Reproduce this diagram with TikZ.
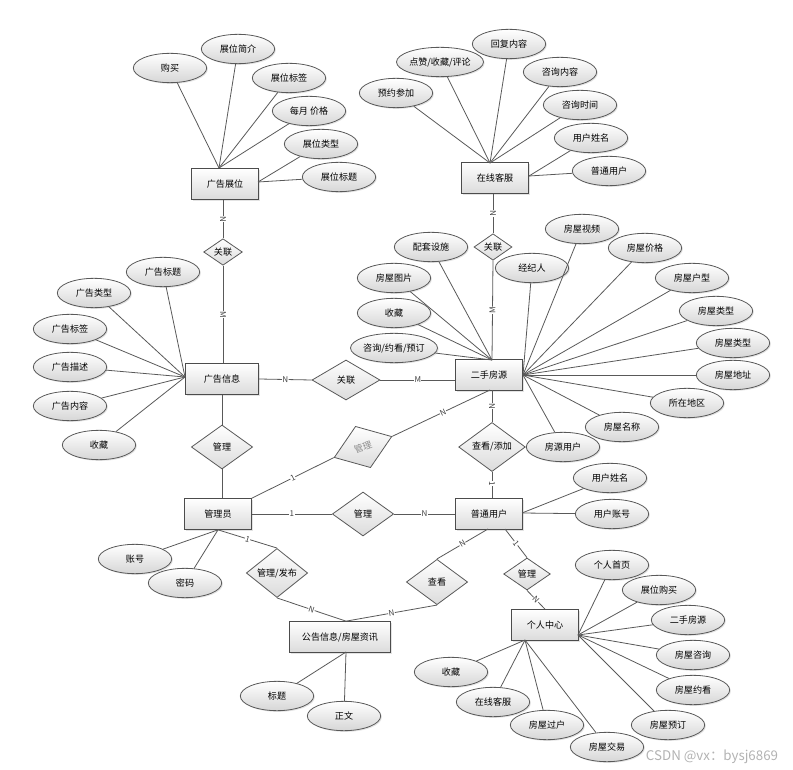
\documentclass[tikz,border=0pt]{standalone}
\usepackage{fontspec}
\setmainfont{Noto Sans CJK SC}
\usetikzlibrary{shapes.geometric,shadows}
\begin{document}
\begin{tikzpicture}[x=0.75pt,y=-0.75pt,
  every node/.style={font=\fontsize{6.8}{7.5}\selectfont},
  link/.style={draw=black!65, line width=0.6pt},
  shad/.style={drop shadow={opacity=0.22, shadow xshift=0.9pt, shadow yshift=-0.9pt}},
  attr/.style={ellipse, draw=black!65, line width=0.6pt, top color=white, bottom color=black!16, minimum width=55pt, minimum height=22pt, inner sep=0pt, shad},
  ent/.style={rectangle, draw=black!70, line width=0.75pt, top color=white, bottom color=black!14, minimum width=50pt, minimum height=23pt, inner sep=1pt, shad},
  rel/.style={diamond, draw=black!65, line width=0.6pt, top color=white, bottom color=black!14, inner sep=0pt, minimum width=46pt, minimum height=33pt},
  card/.style={font=\fontsize{6}{6}\selectfont, text=black!75, fill=white, inner sep=0.3pt, sloped}
]
\useasboundingbox (0,0) rectangle (793,770);
% entities
\node[ent] (gz) at (225,184) {广告展位};
\node[ent] (zx) at (495,178) {在线客服};
\node[ent, minimum width=55pt] (gx) at (222,379) {广告信息};
\node[ent] (ef) at (489,375) {二手房源};
\node[ent] (gly) at (218,514) {管理员};
\node[ent] (pt) at (489,514) {普通用户};
\node[ent] (gr) at (545,625) {个人中心};
\node[ent, minimum width=76pt] (gg) at (340,637) {公告信息/房屋资讯};
% relationships
\node[rel, minimum width=29pt, minimum height=19pt] (r1) at (223,252) {关联};
\node[rel, minimum width=28.5pt, minimum height=19pt] (r2) at (493,247) {关联};
\node[rel, minimum width=51pt, minimum height=30pt] (r3) at (346,380) {关联};
\node[rel] (r4) at (222,447) {管理};
\node[rel, rotate=20, text=black!45] (r5) at (363,447) {管理};
\node[rel] (r6) at (363,514) {管理};
\node[rel, minimum width=50pt] (r7) at (492,447) {查看/添加};
\node[rel, minimum height=34pt] (r8) at (277,573) {管理/发布};
\node[rel, minimum height=34pt] (r9) at (437,582) {查看};
\node[rel, minimum width=35pt, minimum height=24pt] (r10) at (527,574) {管理};
% attributes
\node[attr] (a1) at (170,68) {购买};
\node[attr] (a2) at (238,49) {展位简介};
\node[attr] (a3) at (289,78) {展位标签};
\node[attr] (a4) at (309,111) {每月 价格};
\node[attr] (a5) at (321,144) {展位类型};
\node[attr] (a6) at (339,177) {展位标题};
\node[attr] (b1) at (396,93) {预约参加};
\node[attr] (b2) at (440,62) {点赞/收藏/评论};
\node[attr] (b3) at (509,44) {回复内容};
\node[attr] (b4) at (560,72) {咨询内容};
\node[attr] (b5) at (580,105) {咨询时间};
\node[attr] (b6) at (591,138) {用户姓名};
\node[attr] (b7) at (609,171) {普通用户};
\node[attr] (c1) at (163,272) {广告标题};
\node[attr] (c2) at (94,293) {广告类型};
\node[attr] (c3) at (70,329) {广告标签};
\node[attr] (c4) at (70,367) {广告描述};
\node[attr] (c5) at (70,406) {广告内容};
\node[attr] (c6) at (99,445) {收藏};
\node[attr] (d1) at (431,247) {配套设施};
\node[attr] (d2) at (394,278) {房屋图片};
\node[attr] (d3) at (394,313) {收藏};
\node[attr, minimum width=57pt] (d4) at (394,348) {咨询/约看/预订};
\node[attr] (d5) at (532,268) {经纪人};
\node[attr] (d6) at (582,229) {房屋视频};
\node[attr] (d7) at (645,248) {房屋价格};
\node[attr] (d8) at (692,278) {房屋户型};
\node[attr] (d9) at (716,311) {房屋类型};
\node[attr] (d10) at (733,343) {房屋类型};
\node[attr] (d11) at (733,375) {房屋地址};
\node[attr] (d12) at (687,403) {所在地区};
\node[attr] (d13) at (622,427) {房屋名称};
\node[attr] (d14) at (563,447) {房源用户};
\node[attr] (e1) at (610,478) {用户姓名};
\node[attr] (e2) at (612,514) {用户账号};
\node[attr] (f1) at (135,559) {账号};
\node[attr] (f2) at (185,583) {密码};
\node[attr] (g1) at (277,696) {标题};
\node[attr] (g2) at (344,716) {正文};
\node[attr] (h1) at (612,565) {个人首页};
\node[attr] (h2) at (659,590) {展位购买};
\node[attr] (h3) at (688,620) {二手房源};
\node[attr] (h4) at (693,655) {房屋咨询};
\node[attr] (h5) at (693,690) {房屋约看};
\node[attr] (h6) at (668,725) {房屋预订};
\node[attr] (h7) at (607,747) {房屋交易};
\node[attr] (h8) at (547,725) {房屋过户};
\node[attr] (h9) at (493,702) {在线客服};
\node[attr] (h10) at (451,672) {收藏};
% convergence points
\coordinate (gzT) at (219,168);
\coordinate (gzR) at (258,182);
\coordinate (zxT) at (490,163);
\coordinate (zxR) at (529,176);
\coordinate (gxL) at (185,377);
\coordinate (efT) at (492,360);
\coordinate (efR) at (523,375);
\coordinate (efB) at (490,390);
\coordinate (ptR) at (522,513);
\coordinate (ptB1) at (488,529);
\coordinate (ptB2) at (505,529);
\coordinate (ggB) at (346,652);
\coordinate (grR) at (578,635);
\coordinate (grB) at (525,640);
% attribute links
\foreach \t in {a1,a2,a3,a4} \draw[link] (gzT) -- (\t);
\foreach \t in {a5,a6} \draw[link] (gzR) -- (\t);
\foreach \t in {b1,b2,b3,b4,b5} \draw[link] (zxT) -- (\t);
\foreach \t in {b6,b7} \draw[link] (zxR) -- (\t);
\foreach \t in {c1,c2,c3,c4,c5,c6} \draw[link] (gxL) -- (\t);
\foreach \t in {d1,d2,d3,d4} \draw[link] (efT) -- (\t);
\foreach \t in {d5,d6,d7,d8,d9,d10,d11,d12,d13,d14} \draw[link] (efR) -- (\t);
\foreach \t in {e1,e2} \draw[link] (ptR) -- (\t);
\foreach \t in {f1,f2} \draw[link] (gly.south) -- (\t);
\foreach \t in {g1,g2} \draw[link] (ggB) -- (\t);
\foreach \t in {h1,h2,h3,h4,h5,h6} \draw[link] (grR) -- (\t);
\foreach \t in {h7,h8,h9,h10} \draw[link] (grB) -- (\t);
% relationship links
\draw[link] (gz.south -| r1.north) -- node[card]{N} (r1.north);
\draw[link] (r1.south) -- node[card]{M} (r1.south |- gx.north);
\draw[link] (zx.south -| r2.north) -- node[card]{N} (r2.north);
\draw[link] (r2.south) -- node[card]{M} (efT);
\draw[link] (gx.east) -- node[card]{N} (r3.west);
\draw[link] (r3.east) -- node[card]{M} (ef.west |- r3.east);
\draw[link] (gx.south) -- (r4.north);
\draw[link] (r4.south) -- (r4.south |- gly.north);
\draw[link] (gly.north east) -- node[card]{1} (r5.west);
\draw[link] (r5.east) -- node[card, pos=0.52]{N} (efB);
\draw[link] (gly.east) -- node[card]{1} (r6.west);
\draw[link] (r6.east) -- node[card]{N} (pt.west);
\draw[link] (efB -| r7.north) -- node[card]{N} (r7.north);
\draw[link] (r7.south) -- node[card, pos=0.45]{1} (r7.south |- pt.north);
\draw[link] (gly.south) -- node[card]{1} (r8.north);
\draw[link] (r8.south) -- node[card]{N} (ggB |- gg.north);
\draw[link] (r9.south) -- node[card]{N} (ggB |- gg.north);
\draw[link] (ptB1) -- node[card]{N} (r9.north);
\draw[link] (ptB2) -- node[card]{1} (r10.north);
\draw[link] (r10.south) -- node[card]{N} (gr.north);
% watermark
\node[text=black!30, font=\fontsize{10}{10}\selectfont] (wm) at (712,757) {CSDN @vx：bysj6869};
\end{tikzpicture}
\end{document}
